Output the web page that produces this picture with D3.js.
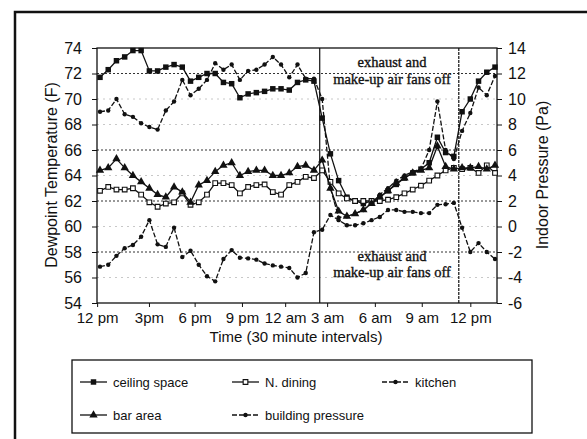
<!DOCTYPE html>
<html>
<head>
<meta charset="utf-8">
<script src="https://d3js.org/d3.v7.min.js"></script>
<style>
  body { margin: 0; background: #fff; }
  svg text { font-family: Arial, "Liberation Sans", sans-serif; fill: #111; }
  .note { font-family: "Liberation Serif", "Times New Roman", serif; font-size: 14.5px; stroke: #111; stroke-width: 0.35px; }
</style>
</head>
<body>
<svg id="chart" width="587" height="439"></svg>
<script>
// 30 minute readings, noon to noon (49 points)
const ceilingSpace = [71.7, 72.3, 73.0, 73.3, 73.8, 73.8, 72.2, 72.2, 72.5, 72.7, 72.5, 71.4, 71.7, 72.0, 72.0,
  71.3, 71.2, 70.1, 70.4, 70.5, 70.6, 70.8, 70.8, 70.7, 71.3, 71.5, 71.4,
  68.5, 65.7, 63.6, 62.3, 62.0, 61.8, 62.0, 62.3, 62.8, 63.3, 63.8, 64.2, 64.5, 65.0, 67.0, 65.8, 65.5,
  69.0, 70.0, 71.4, 72.1, 72.5];
const nDining = [62.8, 63.1, 62.9, 62.9, 63.0, 62.5, 61.9, 61.55, 61.8, 61.9, 62.6, 61.7, 61.9, 62.5, 63.4,
  63.4, 63.25, 62.6, 63.1, 63.25, 63.3, 62.7, 62.5, 63.25, 63.5, 63.9, 63.8,
  64.4, 63.5, 62.6, 62.2, 62.0, 62.0, 62.0, 62.0, 62.1, 62.3, 62.6, 62.9, 63.2, 63.6, 64.0, 64.4, 64.6,
  64.5, 64.6, 64.2, 64.8, 64.2];
const kitchen = [69.0, 69.1, 70.0, 68.8, 68.6, 68.1, 67.8, 67.6, 69.1, 69.8, 71.5, 70.3, 70.8, 71.5, 72.8,
  72.3, 72.7, 71.5, 72.2, 72.3, 72.7, 73.3, 72.7, 71.7, 72.7, 71.6, 71.6,
  70.0, 63.0, 60.7, 60.8, 61.0, 61.3, 61.8, 62.5, 63.0, 63.6, 64.0, 64.3, 64.5, 66.0, 69.8, 66.0, 65.3,
  67.5, 68.9, 70.9, 70.3, 71.8];
const barArea = [64.4, 64.6, 65.3, 64.6, 64.0, 63.5, 63.0, 62.5, 62.3, 63.1, 62.7, 61.9, 63.25, 63.6, 64.3,
  64.8, 65.0, 64.0, 64.3, 64.4, 64.4, 64.0, 64.0, 64.2, 64.7, 64.8, 64.4,
  65.2, 63.0, 61.2, 60.8, 61.0, 61.3, 61.8, 62.3, 62.8, 63.4, 63.8, 64.2, 64.4, 64.6, 66.3, 64.7, 64.5,
  64.6, 64.6, 64.7, 64.5, 64.8];
const buildingPressure = [-3.15, -3.0, -2.3, -1.7, -1.45, -0.8, 0.5, -1.4, -1.6, -0.1, -2.4, -1.9, -3.0, -3.9, -4.3,
  -2.55, -1.85, -2.45, -2.5, -2.6, -2.9, -3.05, -3.15, -3.25, -4.0, -3.65, -0.45,
  -0.25, 0.9, 0.5, 0.1, 0.1, 0.25, 0.5, 0.75, 1.3, 1.3, 1.15, 1.15, 1.05, 1.05, 1.7, 1.75, 1.85,
  -0.1, -2.0, -1.3, -2.0, -2.55];

const xTickLabels = ["12 pm", "3pm", "6 pm", "9 pm", "12 am", "3 am", "6 am", "9 am", "12 pm"];
const xTickAt = [-0.35, 5.95, 11.5, 17.25, 22.5, 27.6, 33.4, 39.1, 45.0];
const leftTicks = [54, 56, 58, 60, 62, 64, 66, 68, 70, 72, 74];
const rightTicks = [-6, -4, -2, 0, 2, 4, 6, 8, 10, 12, 14];
const fansOffAt = [26.7, 43.6];

const svg = d3.select("#chart");
const plot = { left: 97, right: 497, top: 48, bottom: 303 };

// outer frame (runs off the right and bottom)
svg.append("rect").attr("x", 15).attr("y", 12).attr("width", 620).attr("height", 460)
  .attr("fill", "none").attr("stroke", "#111").attr("stroke-width", 2.5);

const x = d3.scaleLinear().domain([0, 48]).range([100, 495]);
const yL = d3.scaleLinear().domain([54, 74]).range([plot.bottom, plot.top]);
const yR = d3.scaleLinear().domain([-6, 14]).range([plot.bottom, plot.top]);

// gridlines
const darkGrid = [72, 66, 62, 58], lightGrid = [70, 68, 64, 60, 56];
svg.selectAll("line.lg").data(lightGrid).join("line").attr("class", "lg")
  .attr("x1", plot.left).attr("x2", plot.right).attr("y1", d => yL(d)).attr("y2", d => yL(d))
  .attr("stroke", "#c8c8c8").attr("stroke-width", 1).attr("stroke-dasharray", "2,4");
svg.selectAll("line.dg").data(darkGrid).join("line").attr("class", "dg")
  .attr("x1", plot.left).attr("x2", plot.right).attr("y1", d => yL(d)).attr("y2", d => yL(d))
  .attr("stroke", "#333").attr("stroke-width", 1).attr("stroke-dasharray", "2,2");

// plot frame
svg.append("rect").attr("x", plot.left).attr("y", plot.top)
  .attr("width", plot.right - plot.left).attr("height", plot.bottom - plot.top)
  .attr("fill", "none").attr("stroke", "#111").attr("stroke-width", 1.3);

// fans-off markers
svg.append("line").attr("x1", x(fansOffAt[0])).attr("x2", x(fansOffAt[0]))
  .attr("y1", plot.top).attr("y2", plot.bottom).attr("stroke", "#111").attr("stroke-width", 1.2);
svg.append("line").attr("x1", x(fansOffAt[1])).attr("x2", x(fansOffAt[1]))
  .attr("y1", plot.top).attr("y2", plot.bottom).attr("stroke", "#111").attr("stroke-width", 1.2)
  .attr("stroke-dasharray", "3,1");

// axes (plain hyphen for negatives, as in the source)
const hyph = d => String(d);
const gl = svg.append("g").attr("transform", `translate(${plot.left},0)`)
  .call(d3.axisLeft(yL).tickValues(leftTicks).tickFormat(hyph).tickSize(5).tickPadding(10));
const gr = svg.append("g").attr("transform", `translate(${plot.right},0)`)
  .call(d3.axisRight(yR).tickValues(rightTicks).tickFormat(hyph).tickSize(5).tickPadding(6));
const gb = svg.append("g").attr("transform", `translate(0,${plot.bottom})`)
  .call(d3.axisBottom(x).tickValues(xTickAt).tickFormat((d, i) => xTickLabels[i]).tickSize(4).tickPadding(5));
[gl, gr, gb].forEach(g => {
  g.select(".domain").remove();
  g.selectAll("line").attr("stroke", "#111");
  g.selectAll("text").attr("fill", "#111").style("font-family", "Arial, sans-serif");
});
gl.selectAll("text").style("font-size", "16px");
gr.selectAll("text").style("font-size", "16px");
gb.selectAll("text").style("font-size", "15px");

// axis titles
svg.append("text").attr("transform", "translate(57,175) rotate(-90)")
  .attr("text-anchor", "middle").style("font-size", "16px").text("Dewpoint Temperature (F)");
svg.append("text").attr("transform", "translate(548,175) rotate(-90)")
  .attr("text-anchor", "middle").style("font-size", "16px").text("Indoor  Pressure (Pa)");
svg.append("text").attr("x", 296).attr("y", 342)
  .attr("text-anchor", "middle").style("font-size", "15px").text("Time (30 minute intervals)");

// annotations
[[67, 84], [261, 277]].forEach(([a, b]) => {
  svg.append("text").attr("class", "note").attr("x", 392).attr("y", a)
    .attr("text-anchor", "middle").text("exhaust and");
  svg.append("text").attr("class", "note").attr("x", 392).attr("y", b)
    .attr("text-anchor", "middle").text("make-up air fans off");
});

const series = [
  { name: "ceiling space", values: ceilingSpace, y: yL, dash: null, marker: "square" },
  { name: "N. dining", values: nDining, y: yL, dash: null, marker: "open" },
  { name: "kitchen", values: kitchen, y: yL, dash: "5,2", marker: "dot" },
  { name: "bar area", values: barArea, y: yL, dash: null, marker: "triangle" },
  { name: "building pressure", values: buildingPressure, y: yR, dash: "5,2", marker: "dot" }
];

function drawMarker(g, kind, cx, cy) {
  if (kind === "dot") {
    g.append("circle").attr("cx", cx).attr("cy", cy).attr("r", 2.2).attr("fill", "#111");
  } else if (kind === "square") {
    g.append("path").attr("transform", `translate(${cx},${cy})`)
      .attr("d", d3.symbol(d3.symbolSquare, 30)()).attr("fill", "#111");
  } else if (kind === "open") {
    g.append("path").attr("transform", `translate(${cx},${cy})`)
      .attr("d", d3.symbol(d3.symbolSquare, 22)()).attr("fill", "#fff").attr("stroke", "#111").attr("stroke-width", 1.1);
  } else if (kind === "triangle") {
    g.append("path").attr("transform", `translate(${cx},${cy})`)
      .attr("d", d3.symbol(d3.symbolTriangle, 30)()).attr("fill", "#111");
  }
}

series.forEach(s => {
  const g = svg.append("g");
  const line = d3.line().x((d, i) => x(i)).y(d => s.y(d));
  g.append("path").attr("d", line(s.values)).attr("fill", "none")
    .attr("stroke", "#111").attr("stroke-width", 1.3)
    .attr("stroke-dasharray", s.dash);
  s.values.forEach((v, i) => drawMarker(g, s.marker, x(i), s.y(v)));
});

// legend
svg.append("rect").attr("x", 72).attr("y", 360).attr("width", 460).attr("height", 73)
  .attr("fill", "#fff").attr("stroke", "#111").attr("stroke-width", 1.3);
const legendPos = [[80, 382], [232, 382], [382, 382], [80, 415], [232, 415]];
series.forEach((s, i) => {
  const [lx, ly] = legendPos[i];
  const g = svg.append("g");
  g.append("line").attr("x1", lx).attr("x2", lx + 27).attr("y1", ly).attr("y2", ly)
    .attr("stroke", "#111").attr("stroke-width", 1.3).attr("stroke-dasharray", s.dash);
  drawMarker(g, s.marker, lx + 13.5, ly);
  g.append("text").attr("x", lx + 33).attr("y", ly + 5).style("font-size", "13px").text(s.name);
});
</script>
</body>
</html>
